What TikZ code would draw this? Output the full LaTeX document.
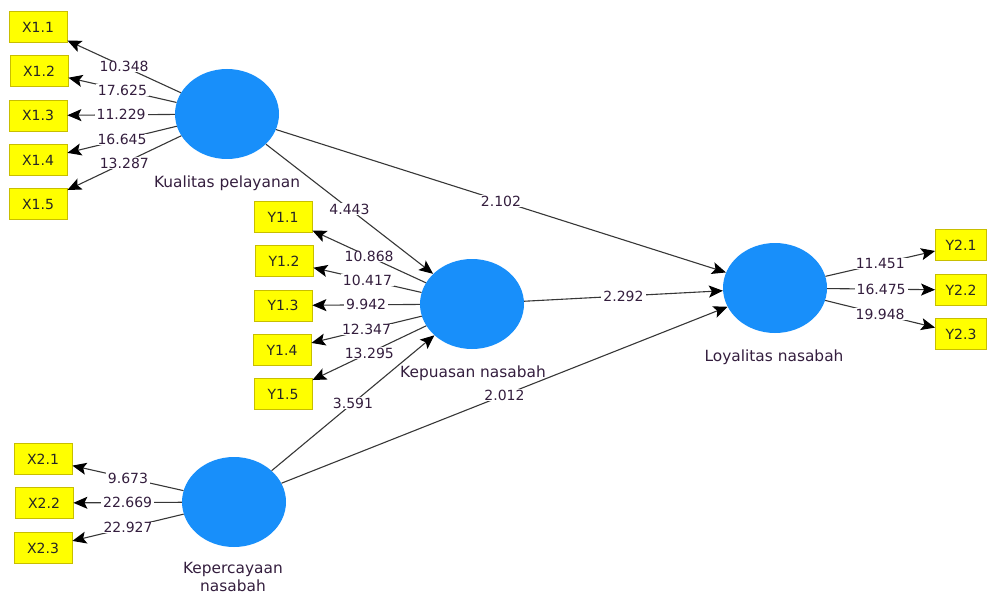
\documentclass[tikz,border=0pt]{standalone}
\usepackage{fontspec}
\setmainfont{DejaVu Sans}
\usetikzlibrary{arrows.meta,shapes.geometric}
\definecolor{lvblue}{RGB}{24,143,250}
\definecolor{mvyellow}{RGB}{255,255,0}
\definecolor{mvborder}{RGB}{200,190,0}
\definecolor{txtcol}{RGB}{52,30,62}
\definecolor{linecol}{RGB}{55,55,55}

\begin{document}
\begin{tikzpicture}[x=1pt,y=-1pt,
    latent/.style={ellipse,fill=lvblue,minimum width=104pt,minimum height=90pt,inner sep=0pt},
    indicator/.style={rectangle,fill=mvyellow,draw=mvborder,line width=.8pt,minimum width=58pt,minimum height=31pt,inner sep=1pt,font=\fontsize{14}{15}\selectfont,text=black!85},
    lvname/.style={align=center,font=\fontsize{15.4}{18}\selectfont,text=txtcol},
    coef/.style={fill=white,inner xsep=2pt,inner ysep=.5pt,font=\fontsize{14}{15}\selectfont,text=txtcol},
    path/.style={draw=linecol,line width=1.1pt,-{Stealth[length=14pt,width=12pt,inset=3pt,color=black]}}]
    \useasboundingbox (0,0) rectangle (987,596);
    % Kualitas pelayanan ====================================
    \node[latent] (KP) at (227,114) {};
    \node[lvname]     at (227,183) {Kualitas pelayanan};
    \node[indicator] (X11) at (38,27)    {X1.1};
    \node[indicator] (X12) at (39,71)    {X1.2};
    \node[indicator] (X13) at (38,115.5) {X1.3};
    \node[indicator] (X14) at (38,160)   {X1.4};
    \node[indicator] (X15) at (38,204)   {X1.5};
    % Kepuasan nasabah ======================================
    \node[latent] (KN) at (472,304) {};
    \node[lvname]     at (473,373) {Kepuasan nasabah};
    \node[indicator] (Y11) at (283,217)   {Y1.1};
    \node[indicator] (Y12) at (284,261)   {Y1.2};
    \node[indicator] (Y13) at (283,305.5) {Y1.3};
    \node[indicator] (Y14) at (282,350)   {Y1.4};
    \node[indicator] (Y15) at (283,394)   {Y1.5};
    % Loyalitas nasabah =====================================
    \node[latent] (LN) at (775,288) {};
    \node[lvname]     at (774,357) {Loyalitas nasabah};
    \node[indicator,minimum width=51pt] (Y21) at (961,245) {Y2.1};
    \node[indicator,minimum width=51pt] (Y22) at (961,290) {Y2.2};
    \node[indicator,minimum width=51pt] (Y23) at (961,334) {Y2.3};
    % Kepercayaan nasabah ===================================
    \node[latent] (KC) at (234,502) {};
    \node[lvname]     at (233,577) {Kepercayaan\\nasabah};
    \node[indicator] (X21) at (43,459) {X2.1};
    \node[indicator] (X22) at (44,503) {X2.2};
    \node[indicator] (X23) at (43,548) {X2.3};
    % outer loadings ========================================
    \draw[path] (KP) -- (X11) node[coef,midway] {10.348};
    \draw[path] (KP) -- (X12) node[coef,midway] {17.625};
    \draw[path] (KP) -- (X13) node[coef,midway] {11.229};
    \draw[path] (KP) -- (X14) node[coef,midway] {16.645};
    \draw[path] (KP) -- (X15) node[coef,midway] {13.287};
    \draw[path] (KN) -- (Y11) node[coef,midway] {10.868};
    \draw[path] (KN) -- (Y12) node[coef,midway] {10.417};
    \draw[path] (KN) -- (Y13) node[coef,midway] {9.942};
    \draw[path] (KN) -- (Y14) node[coef,midway] {12.347};
    \draw[path] (KN) -- (Y15) node[coef,midway] {13.295};
    \draw[path] (LN) -- (Y21) node[coef,midway] {11.451};
    \draw[path] (LN) -- (Y22) node[coef,midway] {16.475};
    \draw[path] (LN) -- (Y23) node[coef,midway] {19.948};
    \draw[path] (KC) -- (X21) node[coef,midway] {9.673};
    \draw[path] (KC) -- (X22) node[coef,midway] {22.669};
    \draw[path] (KC) -- (X23) node[coef,midway] {22.927};
    % inner model ===========================================
    \draw[path] (KP) -- (KN) node[coef,midway] {4.443};
    \draw[path] (KP) -- (LN) node[coef,midway] {2.102};
    \draw[path] (KN) -- (LN) node[coef,midway] {2.292};
    \draw[path] (KC) -- (KN) node[coef,midway] {3.591};
    \draw[path] (KC) -- (LN) node[coef,midway] {2.012};
\end{tikzpicture}
\end{document}
